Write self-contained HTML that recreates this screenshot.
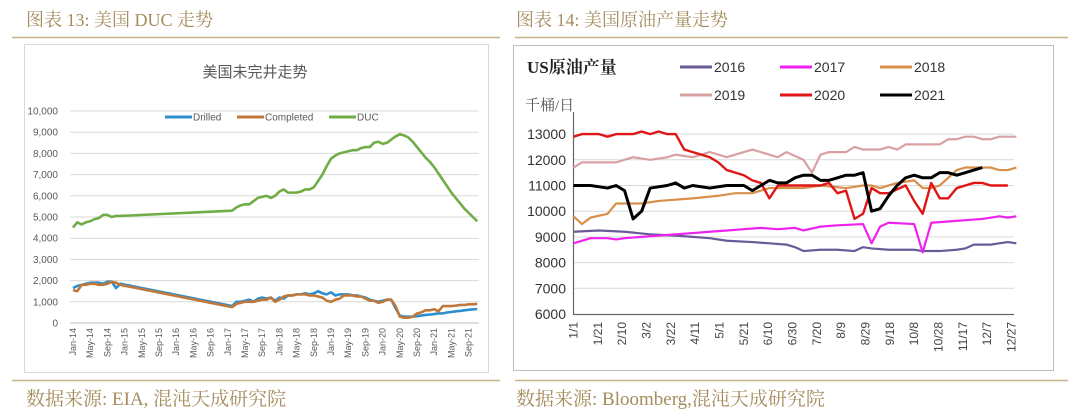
<!DOCTYPE html>
<html><head><meta charset="utf-8">
<style>
html,body{margin:0;padding:0;background:#fff;}
svg{display:block;}
</style></head>
<body>
<svg id="root" width="1080" height="416" viewBox="0 0 1080 416" xmlns="http://www.w3.org/2000/svg">
<g font-family="'Liberation Serif','Noto Serif CJK SC',serif" fill="#a48c5c">
<text x="26" y="26" font-size="18">图表 13:  美国 DUC 走势</text>
<text x="516" y="26" font-size="18">图表 14:  美国原油产量走势</text>
<text x="26" y="405" font-size="19">数据来源:  EIA,  混沌天成研究院</text>
<text x="516" y="405" font-size="19">数据来源:  Bloomberg,混沌天成研究院</text>
</g>
<line x1="12" y1="37.5" x2="500" y2="37.5" stroke="#c8b188" stroke-width="1.5"/>
<line x1="515" y1="37.5" x2="1068" y2="37.5" stroke="#c8b188" stroke-width="1.5"/>
<line x1="12" y1="380.5" x2="500" y2="380.5" stroke="#c8b188" stroke-width="1.5"/>
<line x1="515" y1="380.5" x2="1068" y2="380.5" stroke="#c8b188" stroke-width="1.5"/>

<rect x="24.5" y="44.5" width="464" height="328" fill="#fff" stroke="#d9d9d9"/>
<text x="255" y="77" font-size="15" text-anchor="middle" fill="#595959" font-family="'Liberation Sans','Noto Sans CJK SC',sans-serif">美国未完井走势</text>
<g id="left"></g>

<rect x="513.5" y="45.5" width="540" height="325" fill="#fff" stroke="#bfbfbf"/>
<text x="527" y="73" font-size="17" font-weight="bold" fill="#222" font-family="'Liberation Serif','Noto Serif CJK SC',serif">US原油产量</text>
<text x="525" y="110" font-size="15" fill="#555" font-family="'Liberation Serif','Noto Serif CJK SC',serif">千桶/日</text>
<g id="right"></g>
</svg>
<script>
// ---------- Left chart data ----------
const leftMonthLabels = ["Jan-14","May-14","Sep-14","Jan-15","May-15","Sep-15","Jan-16","May-16","Sep-16","Jan-17","May-17","Sep-17","Jan-18","May-18","Sep-18","Jan-19","May-19","Sep-19","Jan-20","May-20","Sep-20","Jan-21","May-21","Sep-21"];
const leftYTicks = [0,1000,2000,3000,4000,5000,6000,7000,8000,9000,10000];
const ducSeg1 = [4500,4750,4650,4750,4800,4900,4950,5100,5100,5000,5050,5050];
const ducSeg2 = [5300,5450,5550,5600,5600,5750,5900,5950,6000,5900,6000,
 6200,6300,6150,6150,6150,6200,6300,6300,6400,6700,7000,7400,
 7750,7900,8000,8050,8100,8150,8150,8250,8300,8300,8500,8550,
 8450,8500,8650,8800,8900,8850,8750,8550,8300,8050,7800,7600,
 7350,7050,6750,6450,6150,5900,5650,5400,5200,5000,4800];
const drilledSeg1 = [1650,1750,1800,1850,1900,1900,1900,1850,1950,1950,1650,1850];
const drilledSeg2 = [800,1000,1000,1050,1100,1000,1150,1200,1150,1200,1050,
 1200,1150,1300,1300,1350,1350,1400,1350,1400,1500,1400,1350,
 1450,1300,1350,1350,1350,1300,1300,1250,1200,1100,1050,1000,
 1050,1100,1100,700,350,300,300,300,320,350,380,400,
 420,450,450,500,520,550,570,600,620,640,660];
const completedSeg1 = [1550,1500,1800,1800,1850,1850,1800,1800,1850,1950,1900,1800];
const completedSeg2 = [750,900,950,1000,1000,1000,1050,1100,1100,1200,1000,
 1100,1250,1300,1300,1350,1350,1350,1300,1300,1250,1200,1050,
 1000,1100,1150,1300,1300,1300,1250,1250,1150,1050,1050,950,
 1000,1100,1100,800,300,250,250,300,450,500,600,600,
 650,550,800,800,800,820,850,850,880,880,900];
const seg2Start = 37;

// ---------- Right chart data ----------
const rightXLabels = ["1/1","1/21","2/10","3/2","3/22","4/11","5/1","5/21","6/10","6/30","7/20","8/9","8/29","9/18","10/8","10/28","11/17","12/7","12/27"];
const rightYTicks = [6000,7000,8000,9000,10000,11000,12000,13000];
const w2016 = [0,3,6,9,12,14,16,18,21,23,25,26,27,29,31,33,34,35,37,40,41,43,45,46,47,49,50,51,52];
const v2016 = [9200,9250,9200,9100,9050,9000,8950,8850,8800,8750,8700,8600,8450,8500,8500,8450,8600,8550,8500,8500,8450,8450,8500,8550,8700,8700,8750,8800,8750];
const w2017 = [0,2,4,5,6,8,10,12,14,16,18,20,22,24,26,27,29,31,34,35,36,37,40,41,42,44,46,48,50,51,52];
const v2017 = [8750,8950,8950,8900,8950,9000,9050,9100,9150,9200,9250,9300,9350,9300,9350,9250,9400,9450,9500,8750,9400,9550,9500,8400,9550,9600,9650,9700,9800,9750,9800];
const w2018 = [0,1,2,4,5,8,10,14,17,19,21,23,27,29,32,34,35,36,38,40,41,42,43,45,46,49,50,51,52];
const v2018 = [9800,9500,9750,9900,10300,10300,10400,10500,10600,10700,10700,10900,10900,11000,10900,11000,11000,10900,11100,11200,10900,10900,11000,11600,11700,11700,11600,11600,11700];
const w2019 = [0,1,5,7,9,11,12,14,16,18,20,21,23,24,25,27,28,29,30,32,33,34,36,37,38,39,43,44,45,46,47,48,49,50,52];
const v2019 = [11700,11900,11900,12100,12000,12100,12200,12100,12300,12100,12300,12400,12200,12100,12300,12000,11500,12200,12300,12300,12500,12400,12400,12500,12400,12600,12600,12800,12800,12900,12900,12800,12800,12900,12900];
const w2020 = [0,1,3,4,5,7,8,9,10,11,12,13,14,15,16,17,18,19,20,21,22,23,24,29,30,31,32,33,34,35,36,37,39,40,41,42,43,44,45,46,47,48,49,51];
const v2020 = [12900,13000,13000,12900,13000,13000,13100,13000,13100,13000,13000,12400,12300,12200,12100,11900,11600,11500,11400,11200,11100,10500,11000,11000,11100,10700,10800,9700,9900,10900,10700,10700,11000,10400,9900,11100,10500,10500,10900,11000,11100,11100,11000,11000];
const w2021 = [0,2,4,5,6,7,8,9,11,12,13,14,16,18,20,21,22,23,24,25,26,27,28,29,30,31,32,33,34,35,36,37,38,39,40,41,42,43,44,45,46,47,48];
const v2021 = [11000,11000,10900,11000,10800,9700,10000,10900,11000,11100,10900,11000,10900,11000,11000,10800,11000,11200,11100,11100,11300,11400,11400,11200,11200,11300,11400,11400,11500,10000,10100,10600,11000,11300,11400,11300,11300,11500,11500,11400,11500,11600,11700];

const NS = "http://www.w3.org/2000/svg";
function mk(tag, attrs, parent){const e=document.createElementNS(NS,tag);for(const k in attrs)e.setAttribute(k,attrs[k]);parent.appendChild(e);return e;}

// ---------- Left chart ----------
(function(){
  const g = document.getElementById('left');
  const xL = m => 73 + m*4.3;
  const yL = v => 323 - v/1000*21.2;
  leftYTicks.forEach(t=>{
    const ln = mk('line',{x1:70,x2:479,y1:yL(t),y2:yL(t),stroke:t===0?'#bfbfbf':'#d9d9d9','stroke-width':1},g);
    
    
    const tx = mk('text',{x:58,y:yL(t)+3.5,'font-size':10,'text-anchor':'end',fill:'#595959','font-family':"'Liberation Sans',sans-serif"},g);
    tx.textContent = t.toLocaleString('en-US');
    
    
  });
  leftMonthLabels.forEach((l,i)=>{
    const x = xL(i*4);
    const tx = mk('text',{x:0,y:0,'font-size':9,'text-anchor':'end',fill:'#595959','font-family':"'Liberation Sans',sans-serif",transform:`translate(${x+3},${328}) rotate(-90)`},g);
    tx.textContent = l;
    
    
  });
  function series(s1,s2,color,name){
    const pts=[];
    s1.forEach((v,i)=>pts.push([xL(i),yL(v)]));
    s2.forEach((v,i)=>pts.push([xL(seg2Start+i),yL(v)]));
    const p = mk('polyline',{points:pts.map(p=>p.join(',')).join(' '),fill:'none',stroke:color,'stroke-width':2.6,'stroke-linejoin':'round'},g);
    
    
  }
  series(ducSeg1,ducSeg2,'#70ad47','duc-line');
  series(drilledSeg1,drilledSeg2,'#2e8fcc','drilled-line');
  series(completedSeg1,completedSeg2,'#c0783a','completed-line');
  const leg=[['Drilled','#2e8fcc',165],['Completed','#c0783a',237],['DUC','#70ad47',329]];
  leg.forEach(([t,c,x])=>{
    const l = mk('line',{x1:x,x2:x+27,y1:117,y2:117,stroke:c,'stroke-width':3},g);
    
    
    const tx = mk('text',{x:x+28,y:120.5,'font-size':10,fill:'#595959','font-family':"'Liberation Sans',sans-serif"},g);
    tx.textContent=t;
    
    
  });
})();

// ---------- Right chart ----------
(function(){
  const g = document.getElementById('right');
  const xR = w => 573.5 + w*7*438/360;
  const xD = d => 573.5 + d*438/360;
  const yR = v => 314 - (v-6000)/1000*25.7;
  rightYTicks.forEach(t=>{
    if(t>6000){
      const ln = mk('line',{x1:574,x2:1014,y1:yR(t),y2:yR(t),stroke:'#d9d9d9','stroke-width':1},g);
      
      
    }
    const tx = mk('text',{x:566,y:yR(t)+5,'font-size':14,'text-anchor':'end',fill:'#333','font-family':"'Liberation Sans',sans-serif"},g);
    tx.textContent=t;
    
    
  });
  const ax = mk('polyline',{points:`573.5,112 573.5,314.5 1014,314.5`,fill:'none',stroke:'#666','stroke-width':1.2},g);
  
  
  rightXLabels.forEach((l,i)=>{
    const x = xD(i*20);
    const tx = mk('text',{x:0,y:0,'font-size':12,'text-anchor':'end',fill:'#444','font-family':"'Liberation Sans',sans-serif",transform:`translate(${x+4},${322}) rotate(-90)`},g);
    tx.textContent=l;
    
    
  });
  const ser=[[w2016,v2016,'#6a5a96','2016',2.2],[w2017,v2017,'#ee22ee','2017',2.2],[w2018,v2018,'#d8904a','2018',2.2],[w2019,v2019,'#d9a0a4','2019',2.2],[w2020,v2020,'#e01515','2020',2.4],[w2021,v2021,'#000','2021',3]];
  ser.forEach(([w,v,c,n,sw])=>{
    const pts=w.map((wk,i)=>xR(wk)+','+yR(v[i])).join(' ');
    const p = mk('polyline',{points:pts,fill:'none',stroke:c,'stroke-width':sw,'stroke-linejoin':'round'},g);
    
    
  });
  const legPos=[[680,67],[780,67],[880,67],[680,95],[780,95],[880,95]];
  ser.forEach(([w,v,c,n],i)=>{
    const [x,y]=legPos[i];
    const l = mk('line',{x1:x,x2:x+32,y1:y,y2:y,stroke:c,'stroke-width':3},g);
    
    
    const tx = mk('text',{x:x+34,y:y+5,'font-size':14,fill:'#333','font-family':"'Liberation Sans',sans-serif"},g);
    tx.textContent=n;
    
    
  });
})();
</script>
</body></html>
